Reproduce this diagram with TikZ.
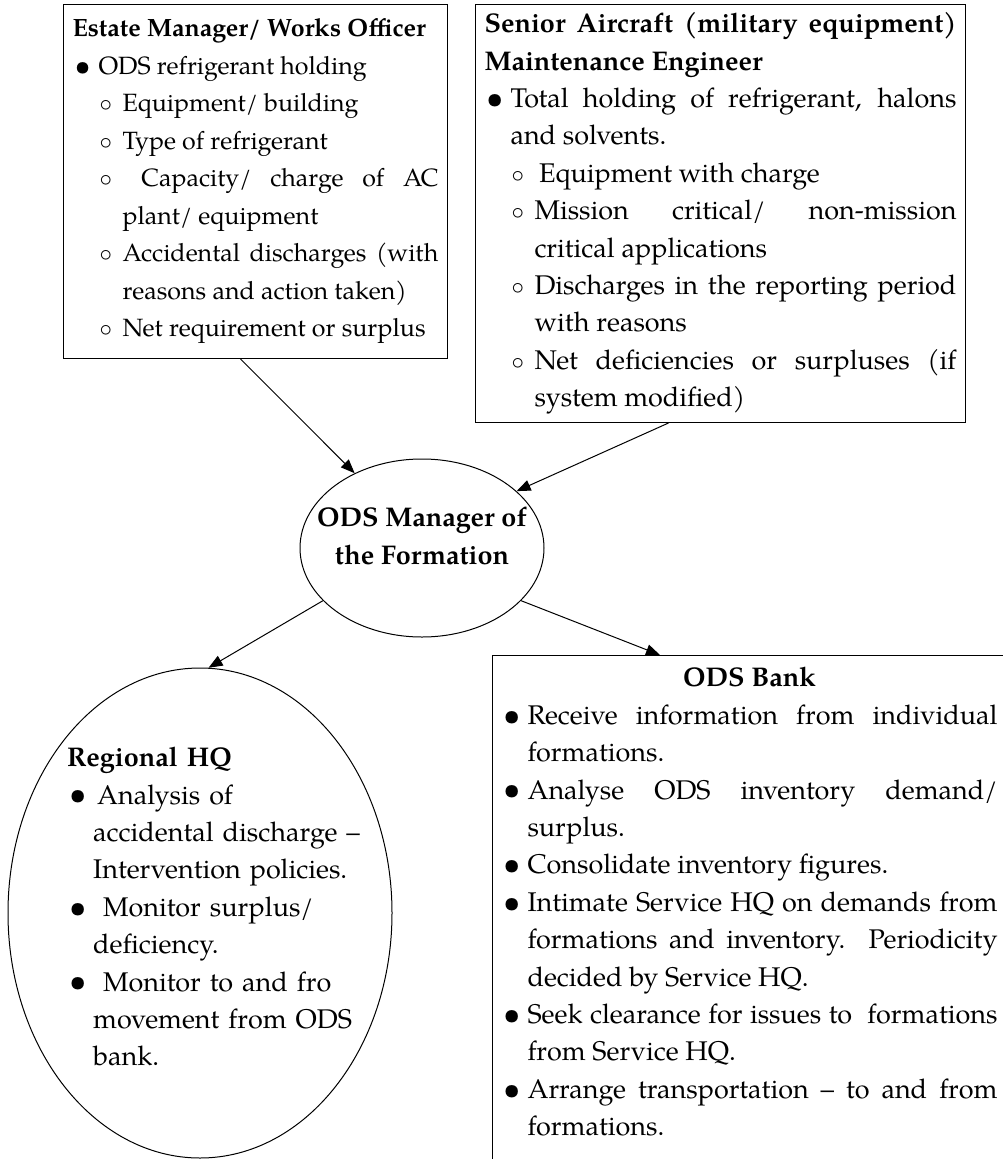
\documentclass[tikz,border=0pt]{standalone}
\usepackage{fontspec}
\setmainfont{TeX Gyre Pagella}
\usetikzlibrary{shapes.geometric,arrows.meta}
\newcommand{\bul}{\par\hangindent=26pt\hangafter=1\noindent\hspace*{2pt}\makebox[24pt][l]{\raisebox{-0.8pt}{\scalebox{1.15}{\textbullet}}}}
\newcommand{\subbul}{\par\hangindent=50pt\hangafter=1\noindent\hspace*{27pt}\makebox[23pt][l]{$\circ$}}
\tikzset{
  odsfont/.style={font=\fontsize{27}{37.4}\selectfont},
  smallfont/.style={font=\fontsize{25}{37.5}\selectfont},
  mgrfont/.style={font=\fontsize{27}{37.4}\selectfont\bfseries},
  infobox/.style={draw, line width=1pt, odsfont, anchor=north west, align=justify, inner xsep=9pt, inner ysep=0pt},
  ring/.style={draw, ellipse, line width=1pt, inner sep=0pt},
  feed/.style={line width=1pt, -{Triangle[length=14pt,width=11pt]}},
}

\begin{document}
\begin{tikzpicture}[x=1pt,y=-1pt]
\useasboundingbox (0,0) rectangle (1003,1159);
\node[infobox, smallfont, text width=366pt, minimum height=354pt] (estate) at (63,4) {%
\textbf{Estate Manager/ Works Officer}
\bul ODS refrigerant holding
\subbul Equipment/ building
\subbul Type of refrigerant
\subbul \ Capacity/ charge of AC\linebreak plant/ equipment
\subbul Accidental discharges (with\linebreak reasons and action taken)
\subbul Net requirement or surplus\par};
\node[infobox, text width=472pt, minimum height=418pt] (senior) at (475,4) {%
\textbf{Senior Aircraft (military equipment)\linebreak Maintenance Engineer}
\bul Total holding of refrigerant, halons\linebreak and solvents.
\subbul \,Equipment with charge
\subbul Mission critical/ non-mission\linebreak critical applications
\subbul Discharges in the reporting period\linebreak with reasons
\subbul Net deficiencies or surpluses (if\linebreak system modified)\par};
\node[ring, minimum width=244pt, minimum height=178pt] (mgr) at (422,548) {};
\node[mgrfont, align=center, yshift=12pt] (mgrtext) at (mgr.center) {ODS Manager of\\the Formation};
\node[ring, minimum width=384pt, minimum height=490pt] (rhq) at (200,913) {};
\node[odsfont, anchor=north west, text width=330pt, align=left, inner sep=0pt] (rhqtext) at (67,747) {%
\textbf{Regional HQ}
\bul\hspace{4pt}Analysis of\newline accidental discharge --\newline Intervention policies.
\bul\hspace{10pt}Monitor surplus/\newline deficiency.
\bul\hspace{10pt}Monitor to and fro\newline movement from ODS\newline bank.\par};
\node[infobox, text width=496pt, inner ysep=12pt] (bank) at (492,655) {%
{\centering\textbf{ODS Bank}\par}
\bul Receive information from individual\linebreak formations.
\bul Analyse ODS inventory demand/\linebreak surplus.
\bul Consolidate inventory figures.
\bul Intimate Service HQ on demands from\linebreak formations and inventory. Periodicity\linebreak decided by Service HQ.
\bul Seek clearance for issues to\ \ formations\linebreak from Service HQ.
\bul Arrange transportation -- to and from\linebreak formations.\par
\noindent\rule{0pt}{60pt}\par};
\draw[feed] ([xshift=-15pt]estate.south) -- (mgr.132);
\draw[feed] ([xshift=-52pt]senior.south) -- (mgr.31);
\draw[feed] (mgr.208) -- (rhq.88);
\draw[feed] (mgr.-28) -- ([xshift=168pt]bank.north west);
\end{tikzpicture}
\end{document}
